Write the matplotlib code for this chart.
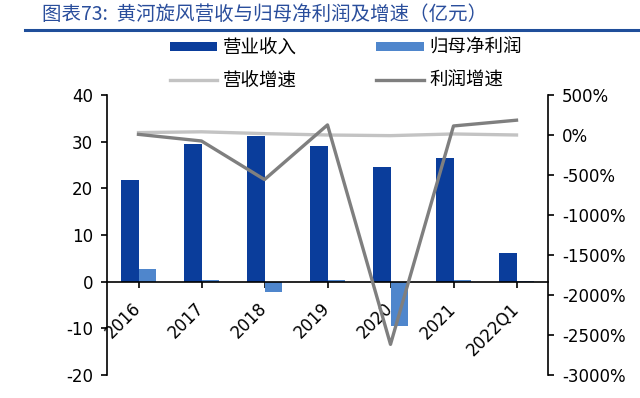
import matplotlib
matplotlib.use("Agg")
import matplotlib.pyplot as plt
import matplotlib.transforms as mtransforms
from matplotlib.patches import Patch
from matplotlib.lines import Line2D
import numpy as np

plt.rcParams["font.family"] = ["DejaVu Sans", "Noto Sans CJK SC"]
plt.rcParams["axes.unicode_minus"] = False

# ── data (亿元 / %) ───────────────────────────────────────────────────────────
categories = ["2016", "2017", "2018", "2019", "2020", "2021", "2022Q1"]
revenue = [21.8, 29.6, 31.2, 29.1, 24.5, 26.5, 6.1]
net_profit = [2.7, 0.4, -2.2, 0.3, -9.6, 0.4, 0.1]
revenue_growth = [30, 40, 17, 0, -8, 13, 0]
profit_growth = [8, -75, -557, 126, -2617, 113, 185]

DARK_BLUE = "#0a3d9b"
LIGHT_BLUE = "#4f86cc"
LIGHT_GRAY = "#c3c3c3"
DARK_GRAY = "#7f7f7f"
TITLE_BLUE = "#2a4e9c"
CJK = ["Noto Sans CJK SC", "DejaVu Sans"]

W, H = 640, 398
fig = plt.figure(figsize=(W / 100, H / 100), dpi=100)

# axes box in pixel coords: left 107, right 548, top 95, bottom 375
ax = fig.add_axes([107 / W, 1 - 375 / H, (548 - 107) / W, (375 - 95) / H])
ax2 = ax.twinx()

x = np.arange(len(categories))
bw = 0.28
ax.bar(x - bw / 2, revenue, width=bw, color=DARK_BLUE, zorder=2)
ax.bar(x + bw / 2, net_profit, width=bw, color=LIGHT_BLUE, zorder=2)

ax.set_xlim(-0.5, len(categories) - 0.5)
ax.set_ylim(-20, 40)
ax.set_yticks(np.arange(-20, 41, 10))

# zero line acts as the category axis
ax.spines["bottom"].set_position(("data", 0))
ax.spines["top"].set_visible(False)
ax.spines["right"].set_visible(False)
for s in ("left", "bottom"):
    ax.spines[s].set_linewidth(1.2)
    ax.spines[s].set_color("black")
ax.set_xticks(x)
ax.set_xticklabels(categories, rotation=45, ha="right", va="top")
ax.tick_params(axis="x", direction="out", length=4, width=1.2, pad=9, labelsize=12)
ax.tick_params(axis="y", direction="out", length=4, width=1.2, pad=6, labelsize=12)
shift = mtransforms.ScaledTranslation(0.06, 0, fig.dpi_scale_trans)
for lbl in ax.get_xticklabels():
    lbl.set_transform(lbl.get_transform() + shift)

ax2.plot(x, revenue_growth, color=LIGHT_GRAY, lw=2.4, zorder=3)
ax2.plot(x, profit_growth, color=DARK_GRAY, lw=2.4, zorder=4)
ax2.set_ylim(-3000, 500)
ax2.set_yticks(np.arange(-3000, 501, 500))
ax2.yaxis.set_major_formatter(plt.FuncFormatter(lambda v, _: f"{int(v)}%"))
for s in ("top", "bottom", "left"):
    ax2.spines[s].set_visible(False)
ax2.spines["right"].set_linewidth(1.2)
ax2.tick_params(axis="y", direction="out", length=4, width=1.2, pad=6, labelsize=12)

# ── legend (row-first order) ─────────────────────────────────────────────────
handles = [
    Patch(facecolor=DARK_BLUE),
    Line2D([], [], color=LIGHT_GRAY, lw=2.4),
    Patch(facecolor=LIGHT_BLUE),
    Line2D([], [], color=DARK_GRAY, lw=2.4),
]
labels = ["营业收入", "营收增速", "归母净利润", "利润增速"]
fig.legend(handles, labels, ncol=2, loc="upper left",
           bbox_to_anchor=(170 / W, 1 - 39 / H), frameon=False,
           prop={"family": CJK, "size": 13.3},
           handlelength=2.55, handleheight=0.38, handletextpad=0.32,
           columnspacing=4.3, labelspacing=0.78, borderpad=0, borderaxespad=0)

# ── title and rule ───────────────────────────────────────────────────────────
fig.text(42 / W, 1 - 14 / H, "图表73:  黄河旋风营收与归母净利润及增速（亿元）",
         family=CJK, fontsize=14, color=TITLE_BLUE, style="italic",
         ha="left", va="center")
fig.add_artist(Line2D([25 / W, 1.0], [1 - 30 / H, 1 - 30 / H],
                      transform=fig.transFigure, color="#1f4e9a", lw=2.2))

fig.savefig("out.png", dpi=100)
